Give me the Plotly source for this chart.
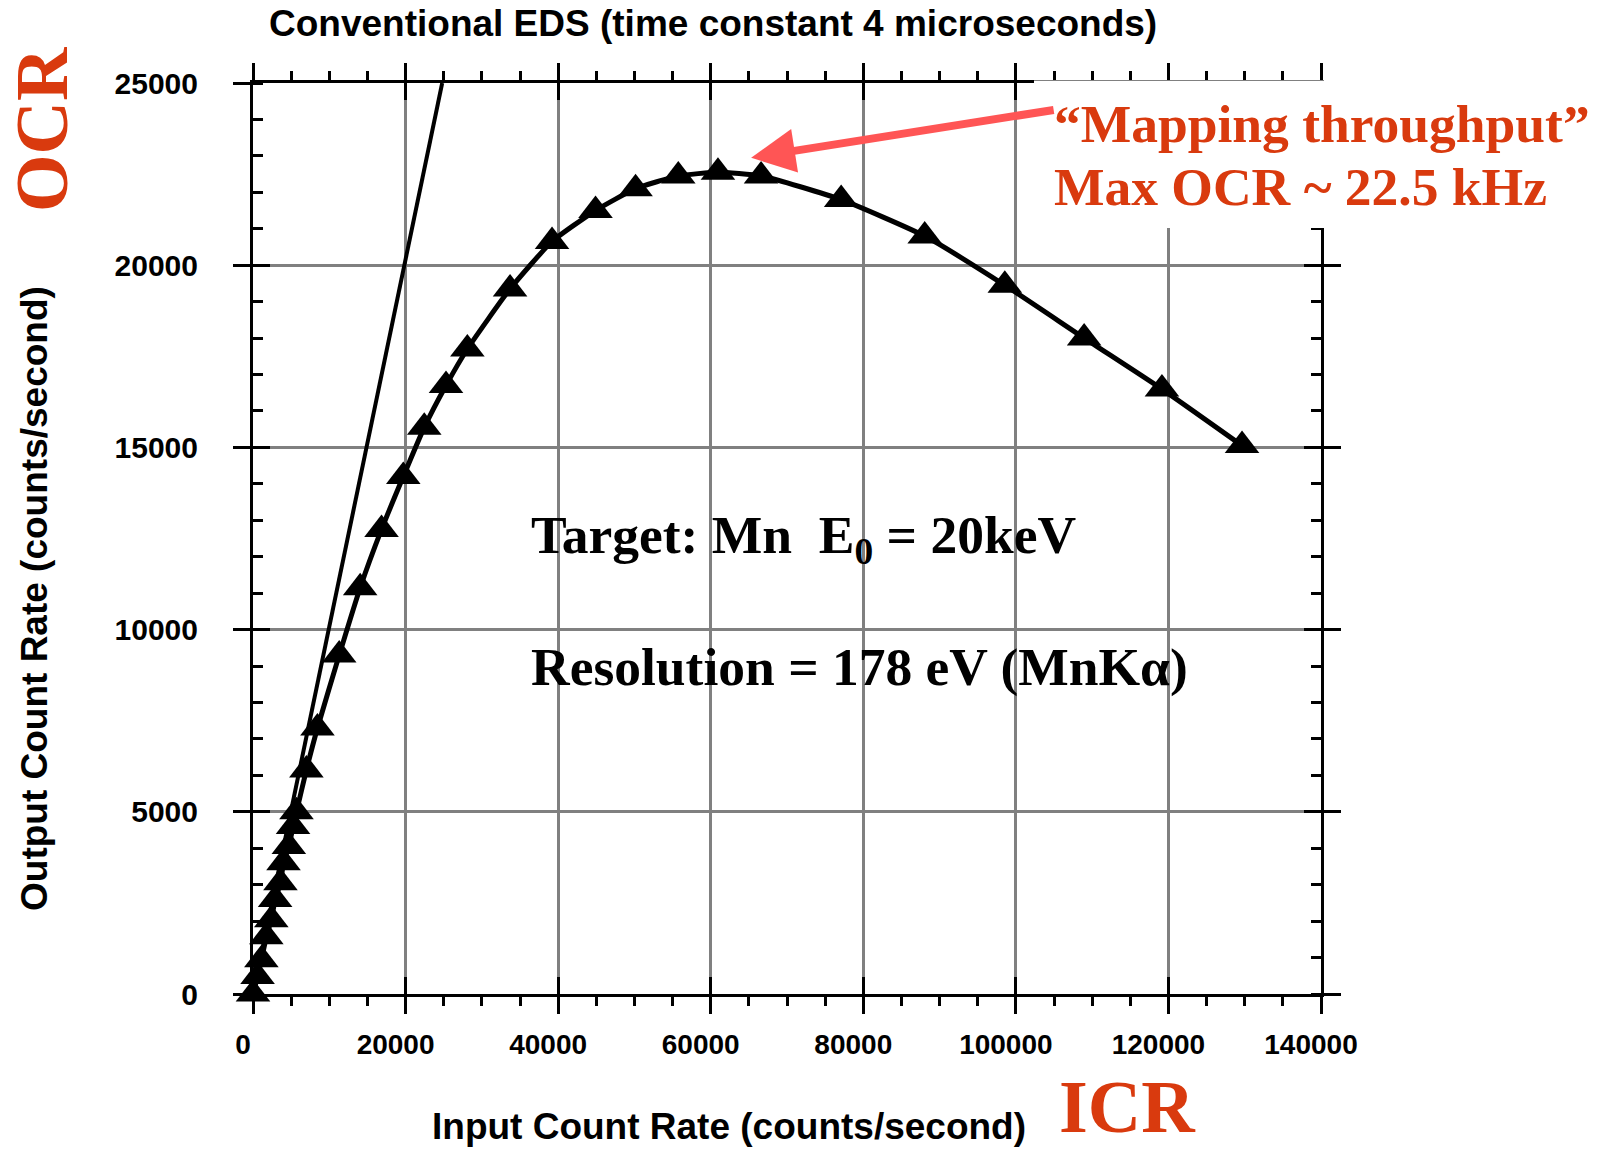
import plotly.graph_objects as go

# ---------------- data ----------------
icr = [0, 600, 1100, 1750, 2400, 2900, 3600, 4000, 4700, 5250, 5700,
       7000, 8450, 11300, 14050, 16850, 19700, 22450, 25300, 28100,
       33700, 39200, 44900, 50150, 55750, 60950, 66600, 77100,
       88050, 98550, 108950, 119150, 129650]
ocr = [0, 480, 940, 1570, 2040, 2590, 3050, 3600, 4050, 4600, 5000,
       6150, 7300, 9300, 11150, 12750, 14200, 15550, 16700, 17700,
       19350, 20650, 21500, 22100, 22450, 22550, 22450, 21800,
       20800, 19450, 18000, 16600, 15050]
ideal_icr = [0, 24800]
ideal_ocr = [0, 25000]

x_ticks = [0, 20000, 40000, 60000, 80000, 100000, 120000, 140000]
x_tick_text = ["0", "20000", "40000", "60000", "80000", "100000", "120000", "140000"]
y_ticks = [0, 5000, 10000, 15000, 20000, 25000]
y_tick_text = ["0", "5000", "10000", "15000", "20000", "25000"]
peak_icr, peak_ocr = 65300, 22950

title_text = "Conventional EDS (time constant 4 microseconds)"
x_title = "Input Count Rate (counts/second)"
y_title = "Output Count Rate (counts/second)"

# ---------------- layout geometry ----------------
W, H = 1602, 1150
L, R, T, B = 253, 281, 83, 156
PW, PH = W - L - R, H - T - B


def px(x):
    return (x - L) / PW


def py(y):
    return (H - B - y) / PH


RED = "#D93A0E"
SANS = "Liberation Sans, Arial, sans-serif"
SERIF = "Liberation Serif, Times New Roman, serif"

fig = go.Figure()

fig.add_trace(go.Scatter(x=ideal_icr, y=ideal_ocr, mode="lines",
                         line=dict(color="black", width=4),
                         hoverinfo="skip", showlegend=False))
fig.add_trace(go.Scatter(x=icr, y=ocr, mode="lines+markers",
                         line=dict(color="black", width=5, shape="spline", smoothing=0.5),
                         marker=dict(symbol="triangle-up", size=30, color="black"),
                         cliponaxis=False, showlegend=False))
# invisible trace for overlay axes (inside major ticks)
fig.add_trace(go.Scatter(x=[0], y=[0], xaxis="x2", yaxis="y2", mode="markers",
                         marker=dict(opacity=0), hoverinfo="skip", showlegend=False))

common_line = dict(showline=True, linecolor="black", linewidth=3, zeroline=False,
                   tickcolor="black", tickwidth=3, layer="below traces")

fig.update_layout(
    width=W, height=H, margin=dict(l=L, r=R, t=T, b=B),
    paper_bgcolor="white", plot_bgcolor="white",
    xaxis=dict(range=[0, 140000], tickvals=x_ticks, ticktext=x_tick_text,
               ticks="outside", ticklen=17,
               mirror="ticks", showgrid=True, gridcolor="#808080", gridwidth=2.5,
               tickfont=dict(family=SANS, size=28, color="black", weight="bold"),
               ticklabelstandoff=6, ticklabelshift=-10,
               minor=dict(dtick=5000, tick0=0, ticks="outside", ticklen=9,
                          tickwidth=2.5, tickcolor="black", showgrid=False),
               **common_line),
    yaxis=dict(range=[0, 25000], tickvals=y_ticks, ticktext=y_tick_text,
               ticks="outside", ticklen=17,
               mirror="ticks", showgrid=True, gridcolor="#808080", gridwidth=2.5,
               tickfont=dict(family=SANS, size=30, color="black", weight="bold"),
               ticklabelstandoff=29,
               minor=dict(dtick=1000, tick0=0, ticks="inside", ticklen=10,
                          tickwidth=2.5, tickcolor="black", showgrid=False),
               **common_line),
    xaxis2=dict(range=[0, 140000], overlaying="x", anchor="y2", side="bottom",
                tickvals=x_ticks, ticks="inside", ticklen=17, mirror="ticks",
                showticklabels=False, showgrid=False, **common_line),
    yaxis2=dict(range=[0, 25000], overlaying="y", anchor="x2", side="left",
                tickvals=y_ticks, ticks="inside", ticklen=17, mirror="ticks",
                showticklabels=False, showgrid=False, **common_line),
)

# white box behind the upper-right callout (hides axis/grid there)
fig.add_shape(type="rect", xref="paper", yref="paper",
              x0=px(1034), x1=1.3, y0=py(228), y1=py(80.5),
              fillcolor="white", line=dict(width=0), layer="above")

ann = [
    dict(text=title_text, x=px(713), y=py(23), xanchor="center", yanchor="middle",
         font=dict(family=SANS, size=37, color="black", weight="bold")),
    dict(text=x_title, x=px(729), y=py(1126), xanchor="center", yanchor="middle",
         font=dict(family=SANS, size=37, color="black", weight="bold")),
    dict(text=y_title, x=px(34), y=py(599), xanchor="center", yanchor="middle",
         textangle=-90, font=dict(family=SANS, size=37, color="black", weight="bold")),
    dict(text="OCR", x=px(42), y=py(129), xanchor="center", yanchor="middle",
         textangle=-90, font=dict(family=SERIF, size=74, color=RED, weight="bold")),
    dict(text="ICR", x=px(1057), y=py(1107), xanchor="left", yanchor="middle",
         font=dict(family=SERIF, size=74, color=RED, weight="bold")),
    dict(text="\u201cMapping throughput\u201d", x=px(1052), y=py(124), xanchor="left",
         yanchor="middle", font=dict(family=SERIF, size=53.5, color=RED, weight="bold")),
    dict(text="Max OCR ~ 22.5 kHz", x=px(1052), y=py(187), xanchor="left",
         yanchor="middle", font=dict(family=SERIF, size=53.5, color=RED, weight="bold")),
    dict(text="Target: Mn\u00a0 E<sub>0</sub> = 20keV", x=px(529), y=py(538),
         xanchor="left", yanchor="middle",
         font=dict(family=SERIF, size=53.5, color="black", weight="bold")),
    dict(text="Resolution = 178 eV (MnK\u03b1)", x=px(529), y=py(667),
         xanchor="left", yanchor="middle",
         font=dict(family=SERIF, size=53.5, color="black", weight="bold")),
]
for a in ann:
    fig.add_annotation(xref="paper", yref="paper", showarrow=False, **a)

fig.add_annotation(x=peak_icr, y=peak_ocr, xref="x", yref="y", text="",
                   showarrow=True, arrowhead=2, arrowsize=1.1, arrowwidth=8,
                   arrowcolor="#FF5555", ax=304, ay=-48, standoff=0)

fig.write_html("out.html")
